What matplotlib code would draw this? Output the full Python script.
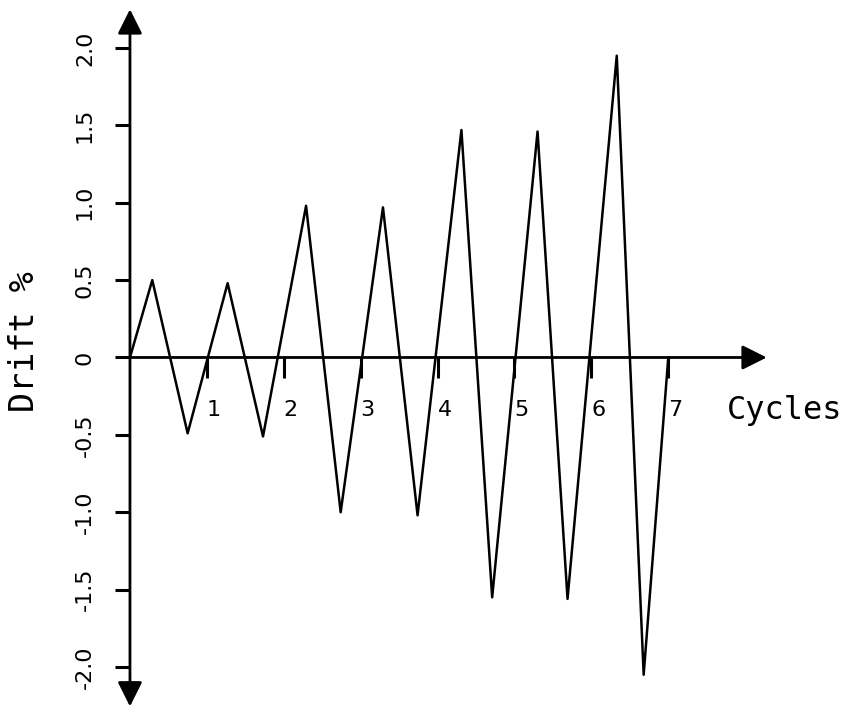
import numpy as np
import matplotlib
matplotlib.use("Agg")
import matplotlib.pyplot as plt

# Dane (cykle, drift %)
cycle_pos = [0, 0.29, 0.75, 1.27, 1.73, 2.29, 2.74, 3.29, 3.74, 4.31, 4.71, 5.30, 5.69, 6.33, 6.68, 7.0]
drift_val = [0, 0.50, -0.49, 0.48, -0.51, 0.98, -1.00, 0.97, -1.02, 1.47, -1.55, 1.46, -1.56, 1.95, -2.05, 0.0]

x_ticks = [1, 2, 3, 4, 5, 6, 7]
x_labels = ["1", "2", "3", "4", "5", "6", "7"]
y_ticks = [2.0, 1.5, 1.0, 0.5, 0, -0.5, -1.0, -1.5, -2.0]
y_labels = ["2.0", "1.5", "1.0", "0.5", "0", "-0.5", "-1.0", "-1.5", "-2.0"]

fig = plt.figure(figsize=(8.53, 7.08), dpi=100)
ax = fig.add_axes([0, 0, 1, 1])
ax.set_xlim(-1.690, 9.402)
ax.set_ylim(-2.265, 2.310)
ax.axis("off")

# osie ze strzalkami
arrow = dict(arrowstyle="-|>,head_length=0.5,head_width=0.25", mutation_scale=30, lw=2,
             color="black", shrinkA=0, shrinkB=0)
ax.annotate("", xy=(0, 2.25), xytext=(0, 0), arrowprops=arrow)
ax.annotate("", xy=(0, -2.255), xytext=(0, 0), arrowprops=arrow)
ax.annotate("", xy=(8.28, 0), xytext=(0, 0), arrowprops=arrow)

# znaczniki
for t in y_ticks:
    ax.plot([-0.2, 0], [t, t], color="black", lw=2.2, solid_capstyle="butt")
for t in x_ticks:
    ax.plot([t, t], [0, -0.13], color="black", lw=2.2, solid_capstyle="butt")

# przebieg
ax.plot(cycle_pos, drift_val, color="black", lw=1.8)

for t, lab in zip(x_ticks, x_labels):
    ax.text(t, -0.34, lab, ha="left", va="center", fontsize=16, family="DejaVu Sans")
for t, lab in zip(y_ticks, y_labels):
    ax.text(-0.585, t, lab, ha="center", va="center", rotation=90, fontsize=16, family="DejaVu Sans")

ax.text(-1.365, 0.10, "Drift %", ha="center", va="center", rotation=90, fontsize=24, family="DejaVu Sans Mono")
ax.text(7.76, -0.34, "Cycles", ha="left", va="center", fontsize=23, family="DejaVu Sans Mono")

fig.savefig("out.png", dpi=100)
